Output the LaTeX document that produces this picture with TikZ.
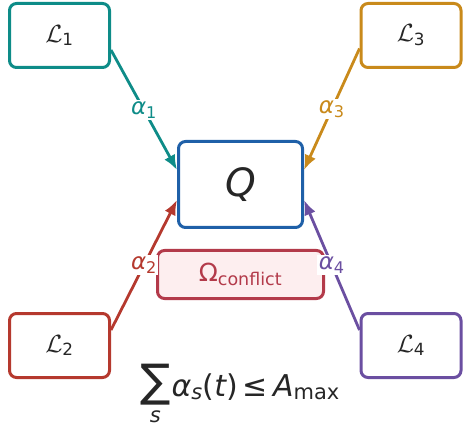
\documentclass[tikz,border=0pt]{standalone}
\usepackage{amsmath}
\usepackage{fontspec}
\setmainfont{DejaVu Sans}
\usetikzlibrary{arrows.meta}

\definecolor{inkgray}{HTML}{262626}
\definecolor{teal1}{HTML}{0E8C88}
\definecolor{gold3}{HTML}{C98A1B}
\definecolor{red2}{HTML}{B5392E}
\definecolor{purple4}{HTML}{6B4FA1}
\definecolor{qblue}{HTML}{1F60A8}
\definecolor{conflictred}{HTML}{B33A4A}
\definecolor{conflictfill}{HTML}{FDEEEF}

\begin{document}
\begin{tikzpicture}[
    x=1pt, y=-1pt,
    srcbox/.style={rectangle, draw, line width=3pt, rounded corners=7pt, minimum width=100pt, minimum height=64pt, inner sep=0pt, text=inkgray, font=\fontsize{24}{26}\selectfont},
    flow/.style={-{Latex[length=15pt,width=12pt]}, line width=2.8pt},
    wlabel/.style={fill=white, inner sep=1.5pt, font=\fontsize{23}{25}\selectfont}
]
\useasboundingbox (0,0) rectangle (465,427);

% sources
\node[srcbox, draw=teal1] (src1) at (59.5,35.5) {$\mathcal{L}$\textsubscript{1}};
\node[srcbox, draw=gold3] (src3) at (411,35.5) {$\mathcal{L}$\textsubscript{3}};
\node[srcbox, draw=red2] (src2) at (59.5,345.5) {$\mathcal{L}$\textsubscript{2}};
\node[srcbox, draw=purple4] (src4) at (411,345.5) {$\mathcal{L}$\textsubscript{4}};

% target and conflict set
\node[rectangle, draw=qblue, line width=3pt, rounded corners=7pt, minimum width=124pt, minimum height=86pt, inner sep=0pt, text=inkgray, font=\fontsize{39}{41}\selectfont] (quant) at (240.5,184.5) {\itshape Q};
\node[rectangle, draw=conflictred, fill=conflictfill, line width=3pt, rounded corners=7pt, minimum width=166pt, minimum height=48pt, inner sep=0pt, text=conflictred, font=\fontsize{25}{27}\selectfont] (conflict) at (240.5,274.5) {Ω\textsubscript{conflict}};

% budget
\node[text=inkgray, anchor=base, inner sep=1pt, font=\fontsize{30}{32}\selectfont] (budget) at (240,396)
  {$\mathop{\mbox{\scalebox{1.5}{∑}}}\limits_{\text{\itshape\raisebox{-3pt}{s}}}$\hspace{1pt}{\itshape α}\textsubscript{\itshape s}({\itshape t})\,≤\,{\itshape A}\textsubscript{max}};

% weighted arrows
\draw[flow, teal1] ([yshift=-14.5pt]src1.east) -- node[wlabel, text=teal1] {{\itshape α}\textsubscript{1}} ([yshift=14.5pt]quant.west);
\draw[flow, gold3] ([yshift=-13pt]src3.west) -- node[wlabel, text=gold3] {{\itshape α}\textsubscript{3}} ([yshift=14.5pt]quant.east);
\draw[flow, red2] ([yshift=15.5pt]src2.east) -- node[wlabel, text=red2] {{\itshape α}\textsubscript{2}} ([yshift=-15.5pt]quant.west);
\draw[flow, purple4] ([yshift=15.5pt]src4.west) -- node[wlabel, text=purple4] {{\itshape α}\textsubscript{4}} ([yshift=-15.5pt]quant.east);
\end{tikzpicture}
\end{document}
